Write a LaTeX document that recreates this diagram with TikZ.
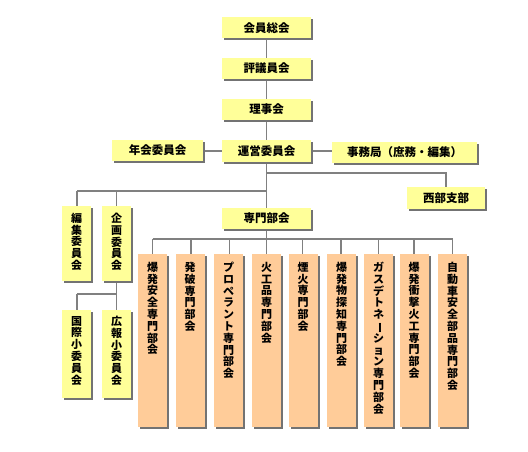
\documentclass[tikz,border=0pt]{standalone}
\usepackage{fontspec}
\usepackage{graphicx}
\setmainfont{Noto Sans CJK JP}
\usetikzlibrary{shadows}
\definecolor{ybox}{HTML}{FFFF99}
\definecolor{obox}{HTML}{FFCC99}
\definecolor{lnc}{HTML}{808080}
\newcommand{\vbar}{\rotatebox[origin=c]{-90}{ー}}
\begin{document}
\begin{tikzpicture}[x=1pt,y=-1pt,
  base/.style={inner sep=0pt, drop shadow={shadow xshift=2pt, shadow yshift=-2pt, fill=black!55, opacity=1}},
  hbox/.style={base, fill=ybox, minimum height=21pt, font=\bfseries\fontsize{11.5}{12}\selectfont},
  vbox/.style={base, fill=ybox, minimum width=29pt},
  cbox/.style={base, fill=obox, minimum width=29pt, minimum height=173pt},
  vtext/.style={inner sep=0pt, anchor=north, align=center, font=\bfseries\fontsize{11}{11.8}\selectfont},
  conn/.style={draw=lnc, line width=1.8pt}]
\useasboundingbox (0,0) rectangle (528,452);
% junction coordinates
\coordinate (j1) at (266.5,173);
\coordinate (j1r) at (446,173);
\coordinate (j2) at (266.5,191);
\coordinate (j2l) at (77,191);
\coordinate (j2m) at (116.5,191);
\coordinate (j3) at (116.5,294);
\coordinate (j3l) at (77,294);
\coordinate (j4) at (266.5,239);
\coordinate (j4l) at (152.5,239);
\coordinate (j4r) at (452.5,239);
% connectors (drawn first, boxes cover them)
\path[conn] (266.5,28) -- (266.5,151);
\path[conn] (157.5,151) -- (404.5,151);
\path[conn] (266.5,151) -- (266.5,218.5);
\path[conn] (j1) -- (j1r) -- (446,198);
\path[conn] (j2l) -- (j2);
\path[conn] (j2l) -- (77,243);
\path[conn] (j2m) -- (116.5,243);
\path[conn] (j3) -- (116.5,243);
\path[conn] (j3l) -- (j3);
\path[conn] (j3l) -- (77,354);
\path[conn] (j3) -- (116.5,354);
\path[conn] (j4) -- (266.5,218.5);
\path[conn] (j4l) -- (j4r);
\foreach \x in {152.5,191,229.5,266.5,302.5,341,378.5,414,452.5}{
  \path[conn] (\x,239) -- (\x,300);
}
% boxes
\node[hbox, minimum width=89pt] (kaiin) at (266.5,28) {会員総会};
\node[hbox, minimum width=89pt] (hyogi) at (266.5,68.5) {評議員会};
\node[hbox, minimum width=89pt] (riji) at (266.5,109.5) {理事会};
\node[hbox, minimum width=89pt, minimum height=22pt] (unei) at (266.5,151) {運営委員会};
\node[hbox, minimum width=91pt] (nenkai) at (157.5,150.5) {年会委員会};
\node[hbox, minimum width=145pt] (jimu) at (404.5,152.5) {事務局（庶務・編集）};
\node[hbox, minimum width=78pt, minimum height=22pt] (seibu) at (446,198) {西部支部};
\node[hbox, minimum width=89pt] (senmon) at (266.5,218.5) {専門部会};
% left vertical boxes
\node[vbox, minimum height=75pt] (henshu) at (76.5,243.5) {};
\node[vtext] at ([yshift=-7pt]henshu.north) {編\\集\\委\\員\\会};
\node[vbox, minimum height=75pt] (kikaku) at (116.5,243.5) {};
\node[vtext] at ([yshift=-7pt]kikaku.north) {企\\画\\委\\員\\会};
\node[vbox, minimum height=88pt] (kokusai) at (76.5,354) {};
\node[vtext] at ([yshift=-6pt]kokusai.north) {国\\際\\小\\委\\員\\会};
\node[vbox, minimum height=88pt] (koho) at (116.5,354) {};
\node[vtext] at ([yshift=-6pt]koho.north) {広\\報\\小\\委\\員\\会};
% columns
\node[cbox] (c1) at (152.5,340.5) {};
\node[vtext] at ([yshift=-8pt]c1.north) {爆\\発\\安\\全\\専\\門\\部\\会};
\node[cbox] (c2) at (190,340.5) {};
\node[vtext] at ([yshift=-8pt]c2.north) {発\\破\\専\\門\\部\\会};
\node[cbox] (c3) at (228.5,340.5) {};
\node[vtext] at ([yshift=-8pt]c3.north) {プ\\ロ\\ペ\\ラ\\ン\\ト\\専\\門\\部\\会};
\node[cbox] (c4) at (266.5,340.5) {};
\node[vtext] at ([yshift=-8pt]c4.north) {火\\工\\品\\専\\門\\部\\会};
\node[cbox] (c5) at (303,340.5) {};
\node[vtext] at ([yshift=-8pt]c5.north) {煙\\火\\専\\門\\部\\会};
\node[cbox] (c6) at (341.5,340.5) {};
\node[vtext] at ([yshift=-8pt]c6.north) {爆\\発\\物\\探\\知\\専\\門\\部\\会};
\node[cbox] (c7) at (378.5,340.5) {};
\node[vtext] at ([yshift=-8pt]c7.north) {ガ\\ス\\デ\\ト\\ネ\\\vbar\\シ\\ョ\\ン\\専\\門\\部\\会};
\node[cbox] (c8) at (414,340.5) {};
\node[vtext] at ([yshift=-8pt]c8.north) {爆\\発\\衝\\撃\\火\\工\\専\\門\\部\\会};
\node[cbox] (c9) at (452.5,340.5) {};
\node[vtext] at ([yshift=-8pt]c9.north) {自\\動\\車\\安\\全\\部\\品\\専\\門\\部\\会};
\end{tikzpicture}
\end{document}
